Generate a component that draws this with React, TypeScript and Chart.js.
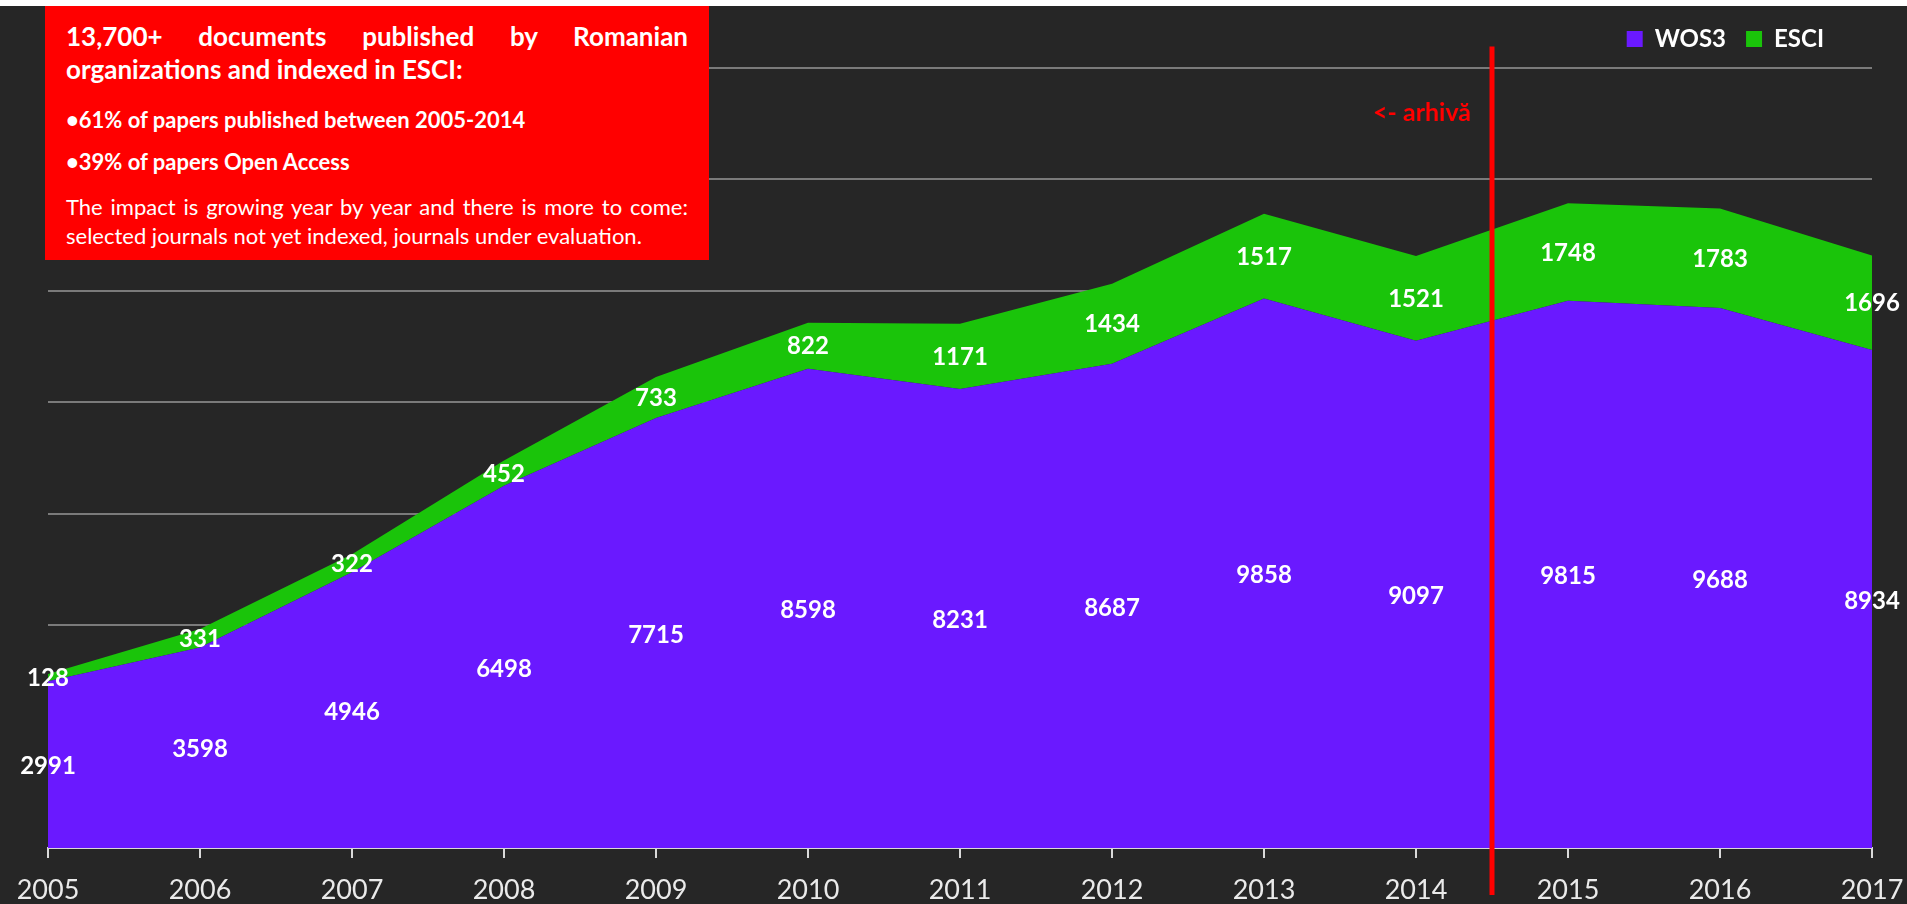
import React, { useEffect, useRef } from "react";
import { Chart, registerables } from "chart.js";

Chart.register(...registerables);

// ---------- data ----------
const years = ["2005", "2006", "2007", "2008", "2009", "2010", "2011", "2012", "2013", "2014", "2015", "2016", "2017"];
const wos3 = [2991, 3598, 4946, 6498, 7715, 8598, 8231, 8687, 9858, 9097, 9815, 9688, 8934];
const esci = [128, 331, 322, 452, 733, 822, 1171, 1434, 1517, 1521, 1748, 1783, 1696];
const seriesNames = ["WOS3", "ESCI"];
const yMin = 0;
const yMax = 14000;
const yStep = 2000;
const archiveSplit = 9.5; // between 2014 and 2015
const archiveLabel = "<- arhivă";
const boxTitleLines = ["13,700+ documents published by Romanian", "organizations and indexed in ESCI:"];
const boxBullets = ["•61% of papers published between 2005-2014", "•39% of papers Open Access"];
const boxNoteLines = [
  "The impact is growing year by year and there is more to come:",
  "selected journals not yet indexed, journals under evaluation.",
];

// ---------- styles ----------
const FONT = "Lato";
const PURPLE = "#6a19ff";
const GREEN = "#1ac40a";
const BG = "#262626";
const RED = "#ff0000";

const backgroundPlugin = {
  id: "bg",
  beforeDraw(chart: any) {
    const { ctx, width, height } = chart;
    ctx.save();
    ctx.fillStyle = "#ffffff";
    ctx.fillRect(0, 0, width, height);
    ctx.fillStyle = BG;
    ctx.fillRect(0, 6, width, height - 6);
    ctx.restore();
  },
};

const legendNudgePlugin = {
  id: "legendNudge",
  afterUpdate(chart: any) {
    const lg = chart.legend;
    if (!lg) return;
    lg.left -= 28;
    lg.right -= 28;
    lg.top -= 6.5;
    lg.bottom -= 6.5;
  },
};

const valueLabelsPlugin = {
  id: "valueLabels",
  afterDatasetsDraw(chart: any) {
    const { ctx } = chart;
    const y = chart.scales.y;
    const base = y.getPixelForValue(0);
    const m0 = chart.getDatasetMeta(0);
    const m1 = chart.getDatasetMeta(1);
    ctx.save();
    ctx.font = `bold 24px ${FONT}`;
    ctx.fillStyle = "#ffffff";
    ctx.textAlign = "center";
    ctx.textBaseline = "middle";
    m0.data.forEach((pt: any, i: number) => {
      ctx.fillText(String(chart.data.datasets[0].data[i]), pt.x, (pt.y + base) / 2 + 2);
    });
    m1.data.forEach((pt: any, i: number) => {
      ctx.fillText(String(chart.data.datasets[1].data[i]), pt.x, (pt.y + m0.data[i].y) / 2 + 1);
    });
    ctx.restore();
  },
};

const archivePlugin = {
  id: "archive",
  afterDatasetsDraw(chart: any) {
    const { ctx, chartArea } = chart;
    const x = chart.scales.x.getPixelForValue(archiveSplit);
    ctx.save();
    ctx.strokeStyle = RED;
    ctx.lineWidth = 5;
    ctx.beginPath();
    ctx.moveTo(x, chartArea.top - 21);
    ctx.lineTo(x, chartArea.bottom + 47);
    ctx.stroke();
    ctx.font = `bold 25px ${FONT}`;
    ctx.fillStyle = RED;
    ctx.textAlign = "right";
    ctx.textBaseline = "middle";
    ctx.fillText(archiveLabel, x - 21, chartArea.top + 45);
    ctx.restore();
  },
};

const justifiedLine: React.CSSProperties = { textAlign: "justify", textAlignLast: "justify", whiteSpace: "nowrap" };

export default function App() {
  const canvasRef = useRef<HTMLCanvasElement>(null);

  useEffect(() => {
    if (!canvasRef.current) return;
    Chart.defaults.font.family = FONT;
    const chart = new Chart(canvasRef.current, {
      type: "line",
      data: {
        labels: years,
        datasets: [
          {
            label: seriesNames[0],
            data: wos3,
            backgroundColor: PURPLE,
            borderColor: PURPLE,
            borderWidth: 0,
            pointRadius: 0,
            fill: "origin",
            tension: 0,
          },
          {
            label: seriesNames[1],
            data: esci,
            backgroundColor: GREEN,
            borderColor: GREEN,
            borderWidth: 0,
            pointRadius: 0,
            fill: "-1",
            tension: 0,
          },
        ],
      },
      options: {
        responsive: false,
        animation: false,
        devicePixelRatio: 1,
        layout: { padding: { left: 48, right: 35, top: 13.5, bottom: 1 } },
        plugins: {
          legend: {
            position: "top",
            align: "end",
            labels: {
              color: "#ffffff",
              boxWidth: 16,
              boxHeight: 16,
              padding: 20,
              font: { family: FONT, size: 24, weight: "bold" },
            },
          },
          tooltip: { enabled: false },
        },
        scales: {
          x: {
            offset: false,
            grid: {
              display: true,
              drawOnChartArea: false,
              drawTicks: true,
              tickLength: 10,
              color: "#d9d9d9",
              lineWidth: 2,
            },
            border: { display: true, color: "#d9d9d9", width: 2 },
            ticks: {
              color: "#eaeaea",
              font: { family: FONT, size: 27, lineHeight: 1 },
              padding: 18.5,
              maxRotation: 0,
              autoSkip: false,
            },
            afterFit(scale: any) {
              scale.height = 55;
              scale.paddingLeft = 0;
              scale.paddingRight = 0;
            },
          },
          y: {
            stacked: true,
            min: yMin,
            max: yMax,
            ticks: { display: false, stepSize: yStep },
            grid: {
              color: (c: any) => (c.tick && c.tick.value === 0 ? "rgba(0,0,0,0)" : "#7a7a7a"),
              lineWidth: 2,
              drawTicks: false,
            },
            border: { display: false },
          },
        },
      },
      plugins: [backgroundPlugin, legendNudgePlugin, valueLabelsPlugin, archivePlugin],
    } as any);
    return () => chart.destroy();
  }, []);

  return (
    <div
      style={{
        position: "absolute",
        left: 0,
        top: 0,
        width: 1907,
        height: 904,
        overflow: "hidden",
        fontFamily: `${FONT}, sans-serif`,
      }}
    >
      <canvas ref={canvasRef} width={1907} height={904} style={{ display: "block", width: 1907, height: 904 }} />
      <div
        style={{
          position: "absolute",
          left: 45,
          top: 6,
          width: 664,
          height: 254,
          boxSizing: "border-box",
          background: RED,
          color: "#ffffff",
          padding: "14px 21px 0 21px",
        }}
      >
        <div style={{ fontWeight: 700, fontSize: 26, lineHeight: "33px" }}>
          <div style={justifiedLine}>{boxTitleLines[0]}</div>
          <div>{boxTitleLines[1]}</div>
        </div>
        {boxBullets.map((b, i) => (
          <div key={b} style={{ fontWeight: 700, fontSize: 22, lineHeight: "30px", marginTop: i === 0 ? 18.5 : 12 }}>
            {b}
          </div>
        ))}
        <div style={{ fontSize: 22, lineHeight: "28.5px", marginTop: 16.75 }}>
          <div style={justifiedLine}>{boxNoteLines[0]}</div>
          <div style={{ whiteSpace: "nowrap" }}>{boxNoteLines[1]}</div>
        </div>
      </div>
    </div>
  );
}
